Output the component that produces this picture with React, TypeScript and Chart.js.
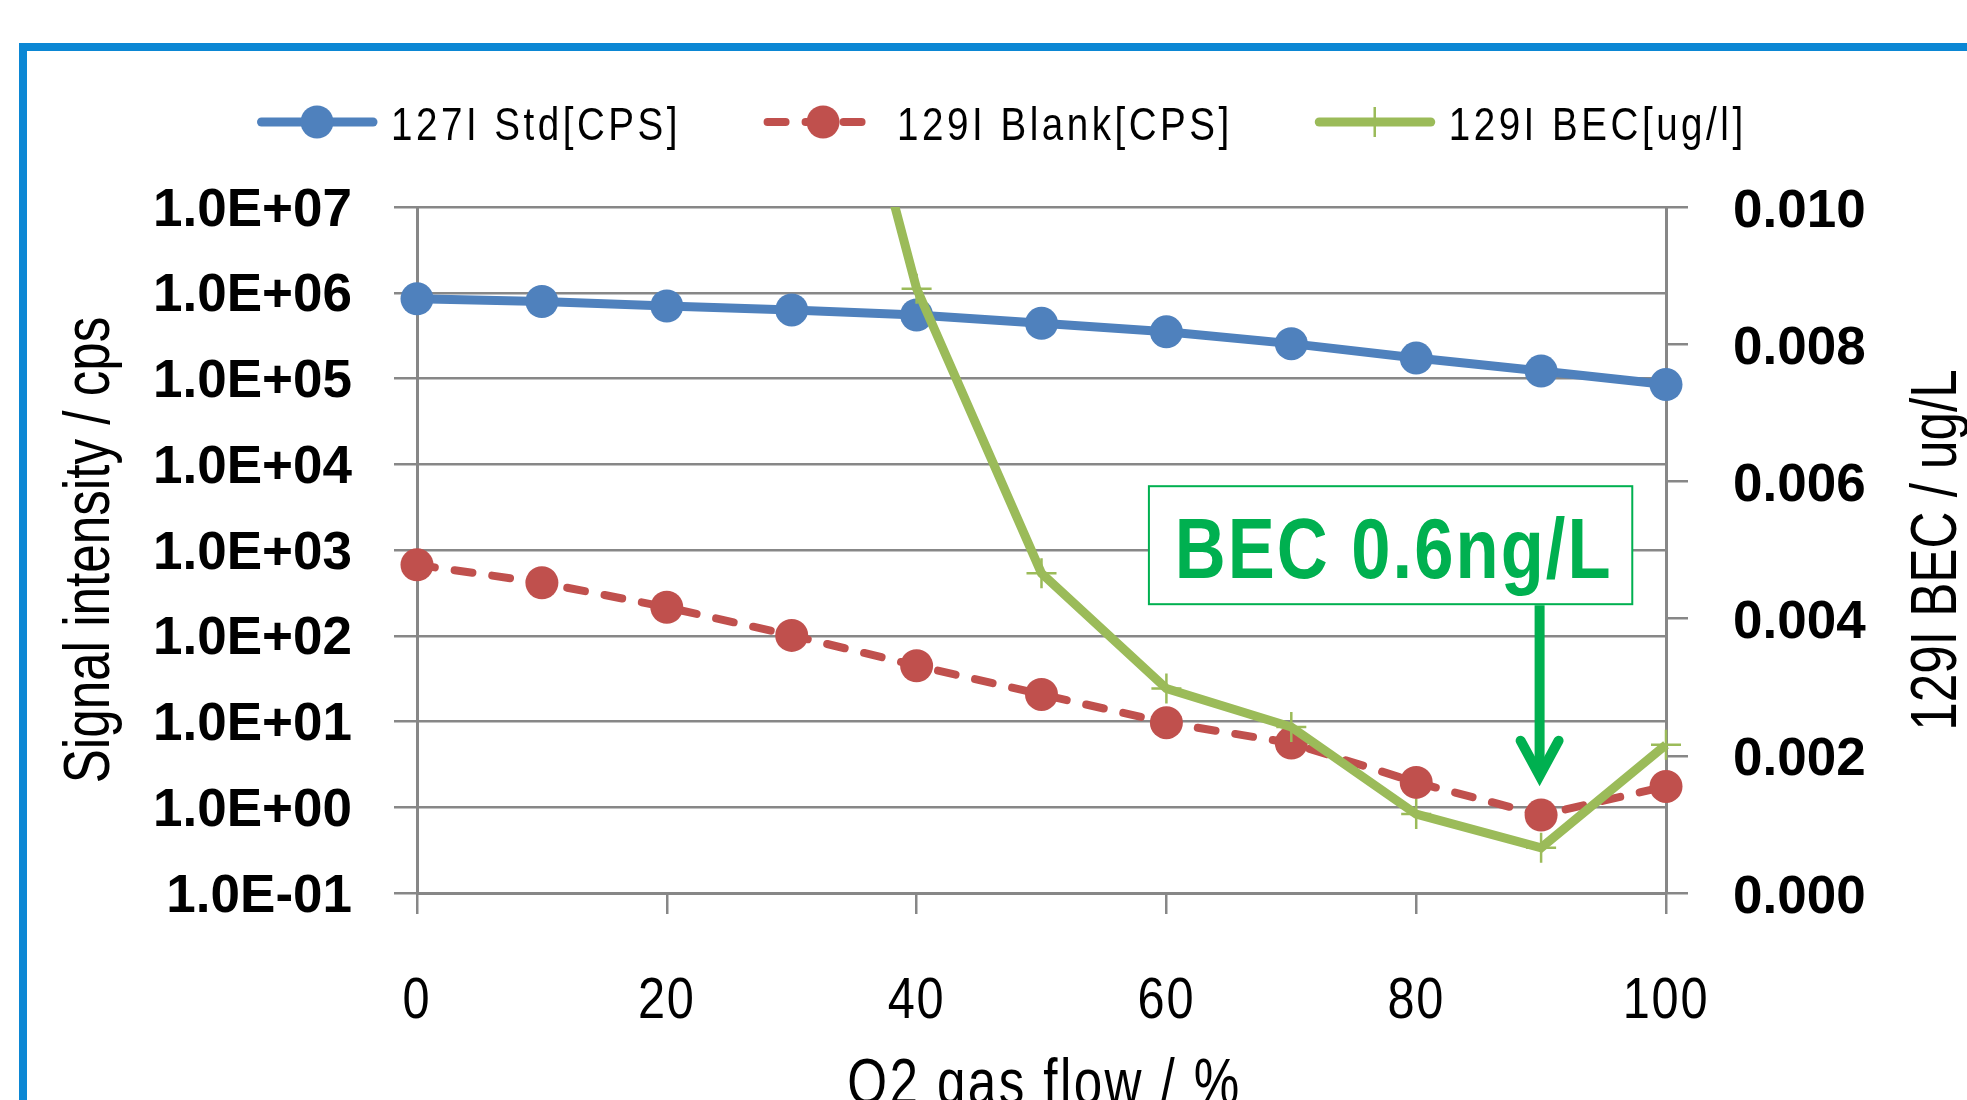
import React, { useEffect, useRef } from 'react';
import { Chart, registerables } from 'chart.js';

Chart.register(...registerables);

// ---------------- data ----------------
const o2Flow = [0, 10, 20, 30, 40, 50, 60, 70, 80, 90, 100];
const std127Cps = [8.5e5, 7.9e5, 7.0e5, 6.3e5, 5.5e5, 4.4e5, 3.5e5, 2.55e5, 1.73e5, 1.22e5, 8.5e4];
const blank129Cps = [671, 415, 215, 101, 44.7, 20.7, 9.7, 5.6, 1.95, 0.81, 1.75];
const bec129UgL = [null, null, null, 0.0157, 0.00881, 0.00466, 0.00298, 0.00242, 0.00115, 0.00066, 0.00216];

const seriesLabels = ['127I Std[CPS]', '129I Blank[CPS]', '129I BEC[ug/l]'];

const leftTickValues = [1e-1, 1e0, 1e1, 1e2, 1e3, 1e4, 1e5, 1e6, 1e7];
const leftTickLabels = ['1.0E-01', '1.0E+00', '1.0E+01', '1.0E+02', '1.0E+03', '1.0E+04', '1.0E+05', '1.0E+06', '1.0E+07'];
const rightTickValues = [0, 0.002, 0.004, 0.006, 0.008, 0.01];
const rightTickLabels = ['0.000', '0.002', '0.004', '0.006', '0.008', '0.010'];
const xTickValues = [0, 20, 40, 60, 80, 100];
const xTickLabels = ['0', '20', '40', '60', '80', '100'];

const xTitle = 'O2 gas flow / %';
const yLeftTitle = 'Signal intensity / cps';
const yRightTitle = '129I BEC / ug/L';

// annotation (in data units: x axis and right axis)
const noteText = 'BEC 0.6ng/L';
const noteBoxX = [58.6, 97.3];
const noteBoxY = [0.00593, 0.00421];
const arrowX = 90;
const arrowTipY = 0.00155;

// ---------------- styles ----------------
const SANS = "'Liberation Sans', Arial, 'DejaVu Sans', sans-serif";
const BLUE = '#4F81BD';
const RED = '#C0504D';
const GREEN = '#9BBB59';
const NOTE_GREEN = '#00B050';
const GRID = '#878787';
const FRAME = '#0B87D4';

type TextOpts = {
  font: string;
  color?: string;
  align?: CanvasTextAlign;
  sx?: number;
  rotate?: number;
  spacing?: number;
};

function drawText(ctx: CanvasRenderingContext2D, text: string, x: number, y: number, o: TextOpts): number {
  const sx = o.sx ?? 1;
  ctx.save();
  ctx.translate(x, y);
  if (o.rotate) ctx.rotate(o.rotate);
  ctx.scale(sx, 1);
  ctx.font = o.font;
  ctx.fillStyle = o.color ?? '#000';
  ctx.textAlign = o.align ?? 'left';
  ctx.textBaseline = 'alphabetic';
  (ctx as any).letterSpacing = (o.spacing ?? 0) + 'px';
  ctx.fillText(text, 0, 0);
  const w = ctx.measureText(text).width * sx;
  ctx.restore();
  return w;
}

export default function App() {
  const ref = useRef<HTMLCanvasElement>(null);

  useEffect(() => {
    const canvas = ref.current;
    if (!canvas) return;

    const decor = {
      id: 'decor',
      beforeDraw(chart: any) {
        const { ctx, width, height } = chart;
        ctx.save();
        ctx.fillStyle = '#ffffff';
        ctx.fillRect(0, 0, width, height);
        ctx.fillStyle = FRAME;
        ctx.fillRect(19, 43, width - 19, 8);
        ctx.fillRect(19, 43, 8, height - 43);
        ctx.restore();
      },
      afterDraw(chart: any) {
        const { ctx } = chart;
        const xs = chart.scales.x;
        const yl = chart.scales.y;
        const y2 = chart.scales.y2;

        // ---- x tick labels (condensed) ----
        xs.ticks.forEach((t: any, i: number) => {
          drawText(ctx, xTickLabels[i], xs.getPixelForValue(t.value), 1018, {
            font: `58px ${SANS}`,
            align: 'center',
            sx: 0.84,
            spacing: 2,
          });
        });

        // ---- axis titles ----
        drawText(ctx, yLeftTitle, 109, (yl.top + yl.bottom) / 2, {
          font: `64px ${SANS}`,
          align: 'center',
          sx: 0.8,
          rotate: -Math.PI / 2,
        });
        drawText(ctx, yRightTitle, y2.right - 11, (y2.top + y2.bottom) / 2, {
          font: `64px ${SANS}`,
          align: 'center',
          sx: 0.8,
          rotate: -Math.PI / 2,
        });
        drawText(ctx, xTitle, (xs.left + xs.right) / 2 + 3, 1104, {
          font: `64px ${SANS}`,
          align: 'center',
          sx: 0.8,
          spacing: 3,
        });

        // ---- legend ----
        const ly = 122;
        let lx = 257;
        chart.data.datasets.forEach((ds: any) => {
          ctx.save();
          ctx.strokeStyle = ds.borderColor;
          ctx.lineWidth = ds.borderWidth;
          ctx.lineCap = 'round';
          ctx.setLineDash(ds.borderDash || []);
          ctx.beginPath();
          ctx.moveTo(lx + 4.5, ly);
          ctx.lineTo(lx + 116, ly);
          ctx.stroke();
          ctx.setLineDash([]);
          const mx = lx + 60;
          if (ds.pointStyle === 'cross') {
            ctx.lineWidth = ds.pointBorderWidth;
            ctx.lineCap = 'butt';
            ctx.beginPath();
            ctx.moveTo(mx, ly - ds.pointRadius);
            ctx.lineTo(mx, ly + ds.pointRadius);
            ctx.moveTo(mx - ds.pointRadius, ly);
            ctx.lineTo(mx + ds.pointRadius, ly);
            ctx.stroke();
          } else {
            ctx.fillStyle = ds.borderColor;
            ctx.beginPath();
            ctx.arc(mx, ly, ds.pointRadius, 0, Math.PI * 2);
            ctx.fill();
          }
          ctx.restore();
          const w = drawText(ctx, ds.label, lx + 134, 140, {
            font: `47px ${SANS}`,
            sx: 0.82,
            spacing: 4.3,
          });
          lx += 134 + w + 82;
        });

        // ---- annotation box ----
        const bx0 = xs.getPixelForValue(noteBoxX[0]);
        const bx1 = xs.getPixelForValue(noteBoxX[1]);
        const by0 = y2.getPixelForValue(noteBoxY[0]);
        const by1 = y2.getPixelForValue(noteBoxY[1]);
        ctx.save();
        ctx.fillStyle = '#ffffff';
        ctx.fillRect(bx0, by0, bx1 - bx0, by1 - by0);
        ctx.strokeStyle = NOTE_GREEN;
        ctx.lineWidth = 2;
        ctx.strokeRect(bx0, by0, bx1 - bx0, by1 - by0);
        ctx.restore();
        drawText(ctx, noteText, (bx0 + bx1) / 2 + 3, by0 + 92, {
          font: `bold 86px ${SANS}`,
          color: NOTE_GREEN,
          align: 'center',
          sx: 0.82,
          spacing: 2.5,
        });

        // ---- arrow ----
        const ax = xs.getPixelForValue(arrowX) - 1.5;
        const tip = y2.getPixelForValue(arrowTipY) - 11;
        ctx.save();
        ctx.strokeStyle = NOTE_GREEN;
        ctx.lineWidth = 10;
        ctx.lineCap = 'butt';
        ctx.beginPath();
        ctx.moveTo(ax, by1 + 1);
        ctx.lineTo(ax, tip);
        ctx.stroke();
        ctx.lineCap = 'round';
        ctx.lineJoin = 'miter';
        ctx.miterLimit = 10;
        ctx.beginPath();
        ctx.moveTo(ax - 19, tip - 35);
        ctx.lineTo(ax, tip);
        ctx.lineTo(ax + 19, tip - 35);
        ctx.stroke();
        ctx.restore();
      },
    };

    const toPoints = (arr: (number | null)[]) => arr.map((y, i) => ({ x: o2Flow[i], y }));

    const chart = new Chart(canvas, {
      type: 'line',
      data: {
        datasets: [
          {
            label: seriesLabels[0],
            data: toPoints(std127Cps),
            yAxisID: 'y',
            borderColor: BLUE,
            backgroundColor: BLUE,
            borderWidth: 9,
            pointStyle: 'circle',
            pointRadius: 16.5,
            pointBorderWidth: 0,
            pointBackgroundColor: BLUE,
            clip: 40,
            order: 2,
          },
          {
            label: seriesLabels[1],
            data: toPoints(blank129Cps),
            yAxisID: 'y',
            borderColor: RED,
            backgroundColor: RED,
            borderWidth: 8,
            borderDash: [18, 20],
            borderCapStyle: 'round',
            pointStyle: 'circle',
            pointRadius: 16.5,
            pointBorderWidth: 0,
            pointBackgroundColor: RED,
            clip: 40,
            order: 1,
          },
          {
            label: seriesLabels[2],
            data: toPoints(bec129UgL),
            yAxisID: 'y2',
            borderColor: GREEN,
            backgroundColor: GREEN,
            borderWidth: 9,
            pointStyle: 'cross',
            pointRadius: 15,
            pointBorderWidth: 2.5,
            pointBorderColor: GREEN,
            clip: { left: 40, right: 40, top: 0, bottom: 40 },
            order: 0,
          },
        ] as any,
      },
      options: {
        responsive: false,
        animation: false,
        devicePixelRatio: 1,
        events: [],
        layout: { padding: { top: 207, left: 0, right: 0, bottom: 0 } },
        plugins: {
          legend: { display: false },
          tooltip: { enabled: false },
          title: { display: false },
        },
        scales: {
          x: {
            type: 'linear',
            position: 'bottom',
            min: 0,
            max: 100,
            afterBuildTicks: (s: any) => {
              s.ticks = xTickValues.map((value) => ({ value }));
            },
            afterFit: (s: any) => {
              s.height = 267;
            },
            grid: { drawOnChartArea: false, drawTicks: true, tickLength: 21, color: GRID, lineWidth: 2.5 },
            border: { display: true, color: GRID, width: 3 },
            ticks: { display: false },
            title: { display: false },
          },
          y: {
            type: 'logarithmic',
            position: 'left',
            min: 0.1,
            max: 1e7,
            afterBuildTicks: (s: any) => {
              s.ticks = leftTickValues.map((value) => ({ value }));
            },
            afterFit: (s: any) => {
              s.width = 417;
            },
            grid: { drawOnChartArea: true, drawTicks: true, tickLength: 23, color: GRID, lineWidth: 2.5 },
            border: { display: true, color: GRID, width: 3 },
            ticks: {
              padding: 42,
              labelOffset: 4,
              color: '#000',
              font: { family: SANS, size: 53, weight: 'bold' },
              autoSkip: false,
              callback: (_v: any, i: number) => leftTickLabels[i],
            },
            title: { display: false },
          },
          y2: {
            type: 'linear',
            position: 'right',
            min: 0,
            max: 0.01,
            afterBuildTicks: (s: any) => {
              s.ticks = rightTickValues.map((value) => ({ value }));
            },
            afterFit: (s: any) => {
              s.width = 301;
            },
            grid: { drawOnChartArea: false, drawTicks: true, tickLength: 22, color: GRID, lineWidth: 2.5 },
            border: { display: true, color: GRID, width: 3 },
            ticks: {
              padding: 45,
              labelOffset: 5,
              color: '#000',
              font: { family: SANS, size: 53, weight: 'bold' },
              autoSkip: false,
              callback: (_v: any, i: number) => rightTickLabels[i],
            },
            title: { display: false },
          },
        },
      } as any,
      plugins: [decor],
    });

    return () => chart.destroy();
  }, []);

  return (
    <div
      style={{
        position: 'fixed',
        left: 0,
        top: 0,
        width: 1967,
        height: 1100,
        overflow: 'hidden',
        background: '#ffffff',
      }}
    >
      <canvas ref={ref} width={1967} height={1160} style={{ display: 'block' }} />
    </div>
  );
}
